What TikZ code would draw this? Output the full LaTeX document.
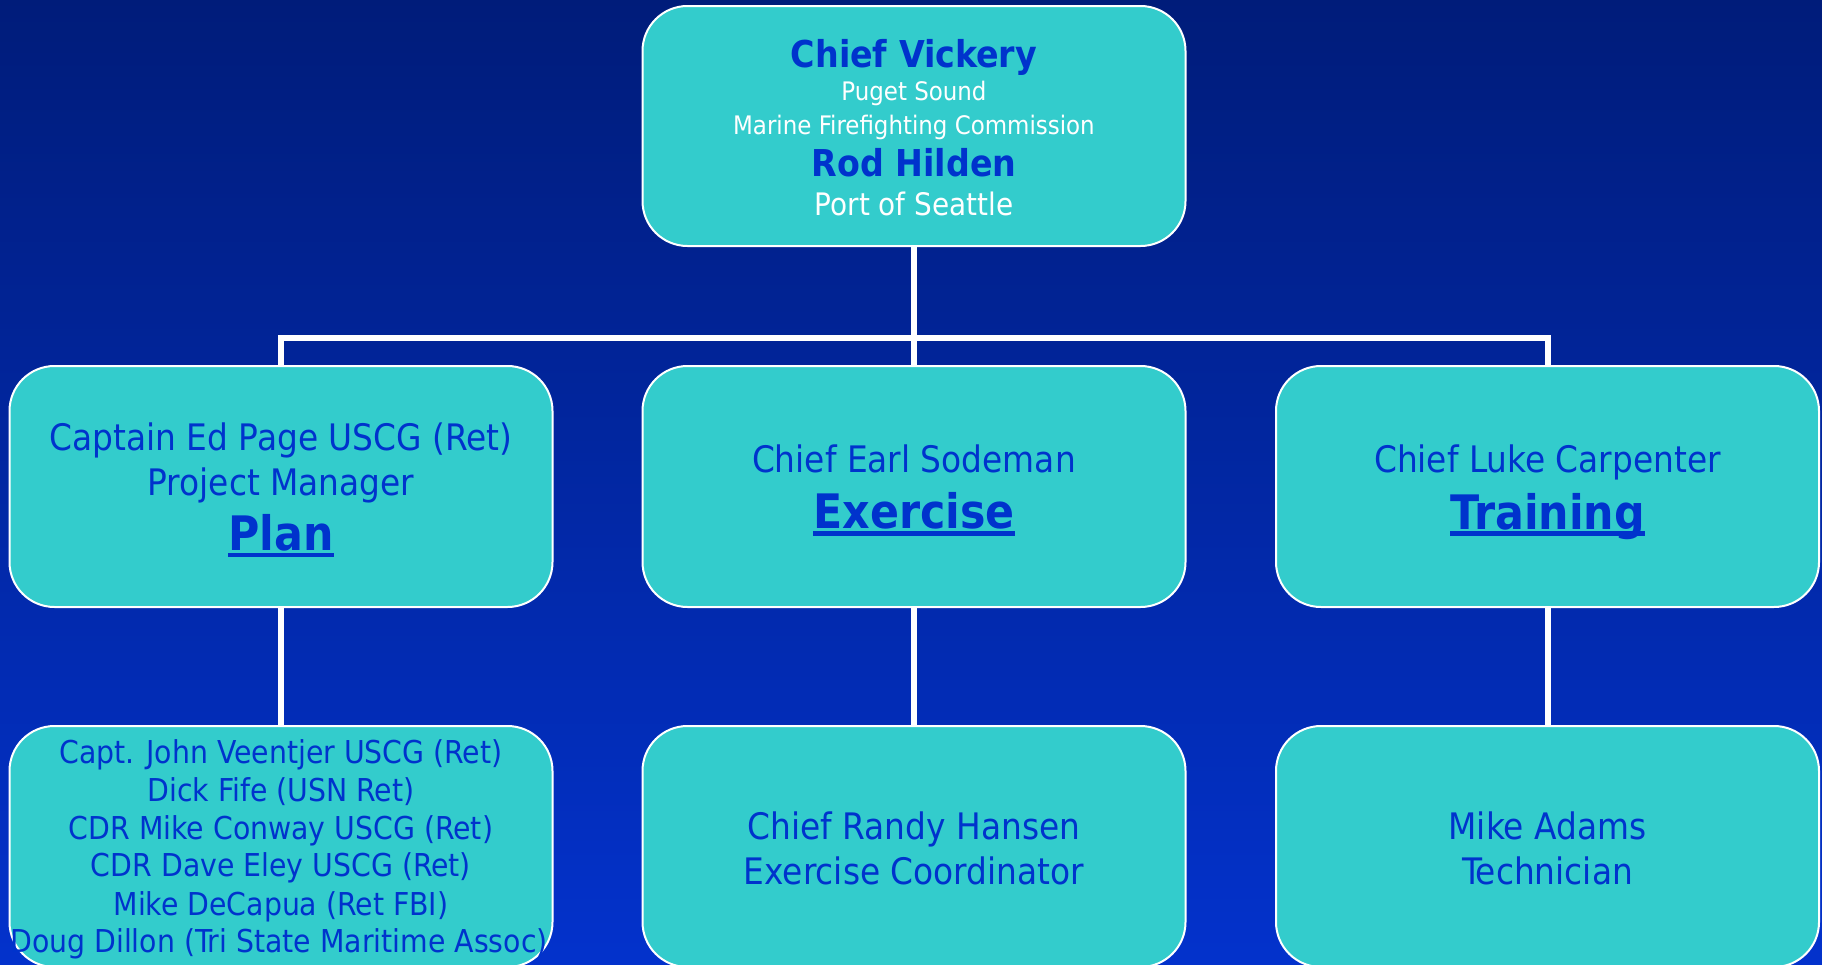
\documentclass[tikz,border=0pt]{standalone}
\usepackage{fontspec}
\setmainfont{DejaVu Sans Condensed}
\definecolor{bgtop}{RGB}{0,28,122}
\definecolor{bgbot}{RGB}{3,50,204}
\definecolor{boxfill}{RGB}{51,204,204}
\definecolor{txtblue}{RGB}{0,51,204}
\tikzset{
  orgbox/.style={draw=white, line width=2pt, fill=boxfill, rounded corners=45pt,
    minimum width=543pt, minimum height=241pt, inner sep=0pt},
  conn/.style={draw=white, line width=6pt},
  ulline/.style={draw=txtblue, line width=4.5pt},
  lbl/.style={anchor=base, inner sep=0pt, text=txtblue},
  reg/.style={lbl, font=\fontsize{36.5}{44}\selectfont},
  small/.style={lbl, font=\fontsize{31.5}{38}\selectfont},
  head/.style={lbl, font=\fontsize{47.5}{56}\selectfont\bfseries},
  topbold/.style={lbl, font=\fontsize{37}{44}\selectfont\bfseries},
  topsub/.style={lbl, text=white, font=\fontsize{25.5}{30}\selectfont},
  topport/.style={lbl, text=white, font=\fontsize{31}{37}\selectfont}
}
\begin{document}
\begin{tikzpicture}[x=1pt,y=-1pt]
\useasboundingbox (0,0) rectangle (1822,964);
\shade[top color=bgtop, bottom color=bgbot] (0,0) rectangle (1822,964);
\clip (0,0) rectangle (1822,964);

% boxes
\node[orgbox, minimum height=240pt] (top) at (914,126) {};
\node[orgbox] (plan)  at (281,486.5) {};
\node[orgbox] (exer)  at (914,486.5) {};
\node[orgbox] (train) at (1547.5,486.5) {};
\node[orgbox] (planteam)  at (281,846.5) {};
\node[orgbox] (exerteam)  at (914,846.5) {};
\node[orgbox] (trainteam) at (1547.5,846.5) {};

% connectors
\coordinate (bus) at (914,338);
\draw[conn] (top.south) -- (bus);
\draw[conn] (bus) -| (plan.north);
\draw[conn] (bus) -- (exer.north);
\draw[conn] (bus) -| (train.north);
\draw[conn] (plan.south) -- (planteam.north);
\draw[conn] (exer.south) -- (exerteam.north);
\draw[conn] (train.south) -- (trainteam.north);

% top box text
\node[topbold] (t1) at (914,67.3) {Chief Vickery};
\node[topsub]  (t2) at (914,100.7) {Puget Sound};
\node[topsub]  (t3) at (914,134) {Marine Firefighting Commission};
\node[topbold] (t4) at (914,176.7) {Rod Hilden};
\node[topport] (t5) at (914,215) {Port of Seattle};

% middle row text
\node[reg]  (p1) at (281,450.7) {Captain Ed Page USCG (Ret)};
\node[reg]  (p2) at (281,495) {Project Manager};
\node[head] (p3) at (281,550.7) {Plan};
\draw[ulline] ([yshift=-4.3pt]p3.base west) -- ([yshift=-4.3pt]p3.base east);

\node[reg]  (e1) at (914,472.7) {Chief Earl Sodeman};
\node[head] (e2) at (914,528.3) {Exercise};
\draw[ulline] ([yshift=-5pt]e2.base west) -- ([yshift=-5pt]e2.base east);

\node[reg]  (r1) at (1547.5,472.7) {Chief Luke Carpenter};
\node[head] (r2) at (1547.5,529) {Training};
\draw[ulline] ([yshift=-4.5pt]r2.base west) -- ([yshift=-4.5pt]r2.base east);

% bottom row text
\node[small] (b1) at (281,763.3) {Capt. John Veentjer USCG (Ret)};
\node[small] (b2) at (281,801) {Dick Fife (USN Ret)};
\node[small] (b3) at (281,839) {CDR Mike Conway USCG (Ret)};
\node[small] (b4) at (281,876.7) {CDR Dave Eley USCG (Ret)};
\node[small] (b5) at (281,915) {Mike DeCapua (Ret FBI)};
\node[small] (b6) at (279,952.3) {Doug Dillon (Tri State Maritime Assoc)};

\node[reg] (c1) at (914,839.3) {Chief Randy Hansen};
\node[reg] (c2) at (914,884) {Exercise Coordinator};

\node[reg] (m1) at (1547.5,839.3) {Mike Adams};
\node[reg] (m2) at (1547.5,884) {Technician};
\end{tikzpicture}
\end{document}
